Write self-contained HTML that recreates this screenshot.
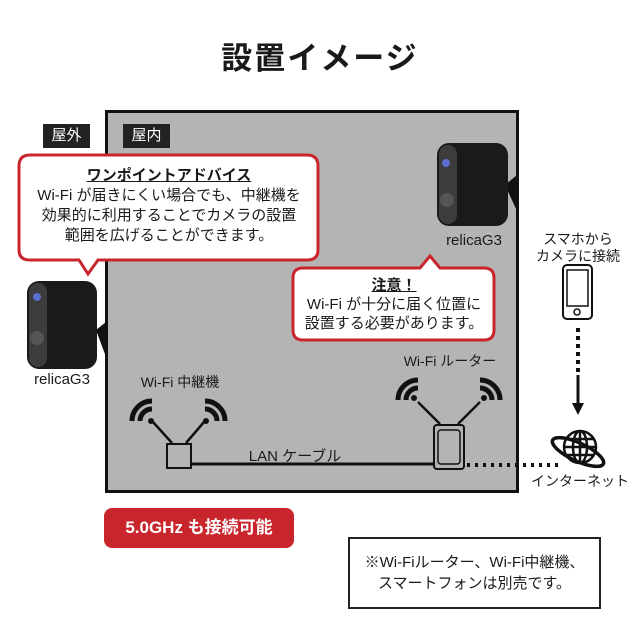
<!DOCTYPE html>
<html><head><meta charset="utf-8"><style>
body{margin:0;width:640px;height:640px;background:#fff;position:relative;overflow:hidden;font-family:"Liberation Sans","Noto Sans CJK JP",sans-serif;color:#1a1a1a}
.a{position:absolute}
.t{text-align:center;white-space:nowrap}
</style></head><body>
<div class="a t" style="left:0;width:640px;top:33px;font-size:31px;font-weight:bold;letter-spacing:2px">設置イメージ</div>
<div class="a" style="left:105px;top:110px;width:408px;height:377px;background:#b4b4b4;border:3px solid #111"></div>
<div class="a t" style="left:43px;top:124px;width:47px;height:24px;background:#222;color:#fff;font-size:15px;line-height:24px">屋外</div>
<div class="a t" style="left:123px;top:124px;width:47px;height:24px;background:#222;color:#fff;font-size:15px;line-height:24px">屋内</div>

<svg class="a" style="left:0;top:0" width="640" height="640">
 <path d="M30 155 H307 Q318 155 318 166 V250 Q318 260 307 260 H98 L88 274 L79 260 H30 Q19 260 19 250 V166 Q19 155 30 155 Z" fill="#fff" stroke="#c8262c" stroke-width="3"/>
 <path d="M303 268 H420 L430 256 L440 268 H484 Q494 268 494 278 V330 Q494 340 484 340 H303 Q293 340 293 330 V278 Q293 268 303 268 Z" fill="#fff" stroke="#c8262c" stroke-width="3"/>
 <g>
  <path d="M96 330 l10 -8 v35 z" fill="#111"/>
  <rect x="27" y="281" width="70" height="88" rx="12" fill="#1a1a1a"/>
  <rect x="29" y="283" width="18" height="84" rx="9" fill="#3c3c3c"/>
  <circle cx="37" cy="297" r="4" fill="#5a6fd0"/>
  <circle cx="37" cy="338" r="7" fill="#555"/>
 </g>
 <g>
  <path d="M505 185 l12 -10 v36 z" fill="#111"/>
  <rect x="437" y="143" width="71" height="83" rx="12" fill="#1a1a1a"/>
  <rect x="439" y="145" width="18" height="79" rx="9" fill="#3c3c3c"/>
  <circle cx="446" cy="163" r="4" fill="#5a6fd0"/>
  <circle cx="447" cy="200" r="7" fill="#555"/>
 </g>
 <g stroke="#111" fill="none" stroke-width="3">
  <rect x="167" y="444" width="24" height="24" fill="#b4b4b4" stroke-width="2"/>
  <line x1="172" y1="443" x2="153" y2="422" stroke-width="2.5"/>
  <line x1="186" y1="443" x2="204" y2="422" stroke-width="2.5"/>
  <path d="M140 421 a12 12 0 0 1 12 -12" stroke-width="5"/>
  <path d="M132 421 a20 20 0 0 1 20 -20" stroke-width="5"/>
  <path d="M217 421 a12 12 0 0 0 -12 -12" stroke-width="5"/>
  <path d="M225 421 a20 20 0 0 0 -20 -20" stroke-width="5"/>
 </g>
 <circle cx="151" cy="421" r="3" fill="#111"/><circle cx="206" cy="421" r="3" fill="#111"/>
 <line x1="191" y1="464" x2="435" y2="464" stroke="#111" stroke-width="3"/>
 <g stroke="#111" fill="none">
  <rect x="434" y="425" width="30" height="44" rx="3" fill="#b4b4b4" stroke-width="2"/>
  <rect x="438" y="430" width="22" height="34" rx="3" stroke-width="1.5"/>
  <line x1="440" y1="424" x2="418" y2="402" stroke-width="2.5"/>
  <line x1="458" y1="424" x2="480" y2="402" stroke-width="2.5"/>
  <path d="M406 400 a12 12 0 0 1 12 -12" stroke-width="5"/>
  <path d="M398 400 a20 20 0 0 1 20 -20" stroke-width="5"/>
  <path d="M492 400 a12 12 0 0 0 -12 -12" stroke-width="5"/>
  <path d="M500 400 a20 20 0 0 0 -20 -20" stroke-width="5"/>
 </g>
 <circle cx="414" cy="398" r="3" fill="#111"/><circle cx="484" cy="398" r="3" fill="#111"/>
 <line x1="467" y1="465" x2="558" y2="465" stroke="#111" stroke-width="4" stroke-dasharray="3 5"/>
 <rect x="563" y="265" width="29" height="54" rx="4" fill="#fff" stroke="#111" stroke-width="2"/>
 <rect x="567" y="270" width="21" height="36" fill="none" stroke="#111" stroke-width="1.5"/>
 <circle cx="577" cy="312" r="3" fill="none" stroke="#111" stroke-width="1.5"/>
 <line x1="578" y1="328" x2="578" y2="375" stroke="#111" stroke-width="4" stroke-dasharray="4 4"/>
 <line x1="578" y1="375" x2="578" y2="405" stroke="#111" stroke-width="3"/>
 <path d="M572 403 L584 403 L578 415 Z" fill="#111"/>
 <g fill="none" stroke="#111" stroke-width="2.5">
  <circle cx="580" cy="447" r="16"/>
  <ellipse cx="580" cy="447" rx="7" ry="16"/>
  <line x1="564" y1="447" x2="596" y2="447"/>
  <line x1="580" y1="431" x2="580" y2="463"/>
  <path d="M567 439 h26 M567 455 h26"/>
  <ellipse cx="578" cy="452" rx="28" ry="9" transform="rotate(25 578 452)" stroke-width="3.5"/>
 </g>
</svg>

<div class="a t" style="left:19px;top:166px;width:300px;font-size:15px;line-height:20px"><b style="text-decoration:underline">ワンポイントアドバイス</b><br>Wi-Fi が届きにくい場合でも、中継機を<br>効果的に利用することでカメラの設置<br>範囲を広げることができます。</div>
<div class="a t" style="left:293px;top:276px;width:202px;font-size:15px;line-height:19px"><b style="text-decoration:underline">注意！</b><br>Wi-Fi が十分に届く位置に<br>設置する必要があります。</div>
<div class="a t" style="left:20px;top:371px;width:84px;font-size:15px">relicaG3</div>
<div class="a t" style="left:432px;top:232px;width:84px;font-size:15px">relicaG3</div>
<div class="a t" style="left:125px;top:372px;width:110px;font-size:14px">Wi-Fi 中継機</div>
<div class="a t" style="left:390px;top:351px;width:120px;font-size:14px">Wi-Fi ルーター</div>
<div class="a t" style="left:225px;top:445px;width:140px;font-size:15px">LAN ケーブル</div>
<div class="a t" style="left:530px;top:231px;width:96px;font-size:14px;line-height:17px">スマホから<br>カメラに接続</div>
<div class="a t" style="left:525px;top:471px;width:110px;font-size:14px">インターネット</div>
<div class="a t" style="left:104px;top:508px;width:190px;height:40px;background:#c8262c;color:#fff;border-radius:8px;font-size:17px;font-weight:bold;line-height:40px">5.0GHz も接続可能</div>
<div class="a t" style="left:348px;top:537px;width:253px;height:72px;border:2px solid #222;font-size:15px;line-height:21px;padding-top:13px;box-sizing:border-box">※Wi-Fiルーター、Wi-Fi中継機、<br>スマートフォンは別売です。</div>
</body></html>
